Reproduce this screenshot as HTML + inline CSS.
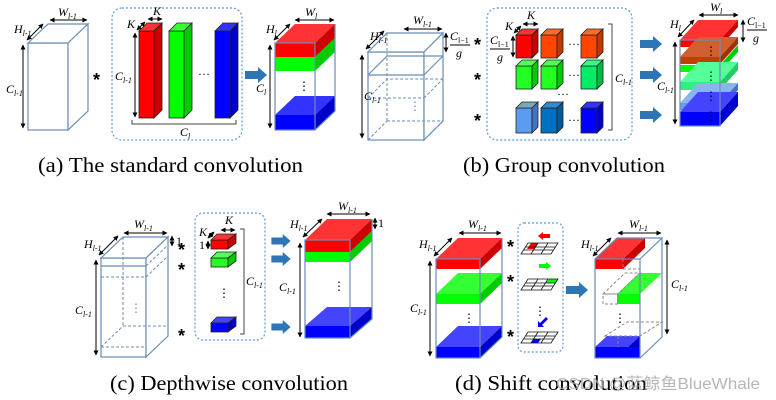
<!DOCTYPE html>
<html><head><meta charset="utf-8"><style>
html,body{margin:0;padding:0;background:#fff}
svg{display:block}
.m{font-family:"Liberation Serif",serif;font-style:italic;font-size:12px;fill:#000}
.cap{font-family:"Liberation Serif",serif;font-size:21px;fill:#000}
.o{fill:#fff;stroke:#6a8db5;stroke-width:1.2}
.ln{fill:none;stroke:#6a8db5;stroke-width:1.2}
.dl{fill:none;stroke:#6a8db5;stroke-width:1;stroke-dasharray:3,2}
.db{fill:none;stroke:#5b9bd5;stroke-width:1.2;stroke-dasharray:2,2}
.d{stroke:#000;stroke-width:1;marker-start:url(#a);marker-end:url(#a)}
.k{stroke:#222;stroke-width:0.8}
.st{font-family:"Liberation Sans",sans-serif;font-size:18px;font-weight:bold;fill:#000}
</style></head><body>
<svg width="776" height="400" viewBox="0 0 776 400" xmlns="http://www.w3.org/2000/svg">
<defs><marker id="a" viewBox="0 0 10 10" refX="9" refY="5" markerWidth="5" markerHeight="5" orient="auto-start-reverse"><path d="M0,0L10,5L0,10z" fill="#000"/></marker>
<symbol id="arr" viewBox="0 0 22 16" overflow="visible"><polygon points="0,4 13,4 13,0 22,8 13,16 13,12 0,12" fill="#2e75b6"/></symbol></defs>

<!-- (a) -->
<rect class="o" x="28" y="43" width="40" height="87"/>
<polygon class="o" points="28,43 48,24 88,24 68,43"/>
<polygon class="o" points="68,43 88,24 88,111 68,130"/>
<line class="d" x1="50" y1="20" x2="87" y2="20"/><text class="m" x="58" y="16">W<tspan font-size="8" dy="3">l-1</tspan></text>
<line class="d" x1="27" y1="40" x2="43" y2="24"/><text class="m" x="14" y="33">H<tspan font-size="8" dy="3">l-1</tspan></text>
<line class="d" x1="23" y1="45" x2="23" y2="128"/><text class="m" x="6" y="93">C<tspan font-size="8" dy="3">l-1</tspan></text>
<text class="st" x="93" y="86">*</text>
<rect class="db" x="112" y="8" width="130" height="132" rx="10"/>
<g class="k">
<rect x="139" y="31" width="15" height="87" fill="#f00"/><polygon points="139,31 147,23 162,23 154,31" fill="#f33"/><polygon points="154,31 162,23 162,110 154,118" fill="#c00"/>
<rect x="169" y="31" width="15" height="87" fill="#0f0"/><polygon points="169,31 177,23 192,23 184,31" fill="#3f3"/><polygon points="184,31 192,23 192,110 184,118" fill="#0c0"/>
<rect x="215" y="31" width="15" height="87" fill="#00f"/><polygon points="215,31 223,23 238,23 230,31" fill="#33f"/><polygon points="230,31 238,23 238,110 230,118" fill="#00c"/>
</g>
<text class="m" x="198" y="78" style="font-style:normal">···</text>
<line class="d" x1="148" y1="19" x2="162" y2="19"/><text class="m" x="153" y="15">K</text>
<line class="d" x1="137" y1="30" x2="145" y2="22"/><text class="m" x="127" y="28">K</text>
<line class="d" x1="135" y1="33" x2="135" y2="117"/><text class="m" x="115" y="80">C<tspan font-size="8" dy="3">l-1</tspan></text>
<path d="M132,120V124H236V120" fill="none" stroke="#444"/><text class="m" x="180" y="136">C<tspan font-size="8" dy="3">l</tspan></text>
<use href="#arr" x="245" y="67" width="22" height="16"/>
<rect x="275" y="43" width="40" height="14" fill="#f00"/><polygon points="275,43 295,24 335,24 315,43" fill="#f33"/><polygon points="315,43 335,24 335,38 315,57" fill="#c00"/>
<rect x="275" y="57" width="40" height="14" fill="#0f0"/><polygon points="315,57 335,38 335,52 315,71" fill="#0c0"/>
<polygon points="275,115 295,96 335,96 315,115" fill="#33f"/><rect x="275" y="115" width="40" height="15" fill="#00f"/><polygon points="315,115 335,96 335,111 315,130" fill="#00c"/>
<rect class="ln" x="275" y="43" width="40" height="87"/><polyline class="ln" points="315,130 335,111 335,24"/>
<text class="m" x="298" y="90" style="font-style:normal">⋮</text>
<line class="d" x1="295" y1="20" x2="334" y2="20"/><text class="m" x="305" y="16">W<tspan font-size="8" dy="3">l</tspan></text>
<line class="d" x1="274" y1="40" x2="290" y2="24"/><text class="m" x="266" y="33">H<tspan font-size="8" dy="3">l</tspan></text>
<line class="d" x1="270" y1="45" x2="270" y2="128"/><text class="m" x="256" y="92">C<tspan font-size="8" dy="3">l</tspan></text>
<text class="cap" x="38" y="172" textLength="265" lengthAdjust="spacingAndGlyphs">(a) The standard convolution</text>

<!-- (b) -->
<rect class="o" x="368" y="52" width="56" height="88"/>
<polygon class="o" points="368,52 387,33 443,33 424,52"/>
<polygon class="o" points="424,52 443,33 443,121 424,140"/>
<polyline class="ln" points="368,75 387,56 443,56"/><line class="ln" x1="368" y1="75" x2="424" y2="75"/><polyline class="ln" points="424,75 443,56"/>
<polyline class="dl" points="368,98 387,79 443,79"/><line class="dl" x1="368" y1="98" x2="424" y2="98"/><polyline class="dl" points="424,98 443,79"/>
<line class="dl" x1="387" y1="33" x2="387" y2="121"/><line class="dl" x1="387" y1="121" x2="443" y2="121"/><line class="dl" x1="368" y1="140" x2="387" y2="121"/>
<text class="m" x="409" y="110" style="font-style:normal;fill:#6a8db5">⋮</text>
<line class="d" x1="404" y1="29" x2="442" y2="29"/><text class="m" x="413" y="24">W<tspan font-size="8" dy="3">l-1</tspan></text>
<line class="d" x1="366" y1="49" x2="384" y2="31"/><text class="m" x="370" y="40">H<tspan font-size="8" dy="3">l-1</tspan></text>
<line class="d" x1="362" y1="55" x2="362" y2="138"/><text class="m" x="364" y="100">C<tspan font-size="8" dy="3">l-1</tspan></text>
<line class="d" x1="446" y1="33" x2="446" y2="52"/><text class="m" x="450" y="40">C<tspan font-size="8" dy="3" style="font-style:normal">l−1</tspan></text><line x1="450" y1="45" x2="470" y2="45" stroke="#000"/><text class="m" x="456" y="57">g</text>
<text class="st" x="474" y="51">*</text><text class="st" x="474" y="86">*</text><text class="st" x="474" y="127">*</text>
<rect class="db" x="487" y="8" width="145" height="132" rx="10"/>
<g class="k">
<rect x="516" y="35" width="16" height="23" fill="#f00"/><polygon points="516,35 522,29 538,29 532,35" fill="#f33"/><polygon points="532,35 538,29 538,52 532,58" fill="#c00"/>
<rect x="541" y="35" width="16" height="23" fill="#ff4500"/><polygon points="541,35 547,29 563,29 557,35" fill="#ff6a2a"/><polygon points="557,35 563,29 563,52 557,58" fill="#c33800"/>
<rect x="581" y="35" width="16" height="23" fill="#ff4500"/><polygon points="581,35 587,29 603,29 597,35" fill="#ff6a2a"/><polygon points="597,35 603,29 603,52 597,58" fill="#c33800"/>
<rect x="516" y="66" width="16" height="23" fill="#2f2"/><polygon points="516,66 522,60 538,60 532,66" fill="#5f5"/><polygon points="532,66 538,60 538,83 532,89" fill="#0c0"/>
<rect x="541" y="66" width="16" height="23" fill="#2f2"/><polygon points="541,66 547,60 563,60 557,66" fill="#5f5"/><polygon points="557,66 563,60 563,83 557,89" fill="#0c0"/>
<rect x="581" y="66" width="16" height="23" fill="#0e6"/><polygon points="581,66 587,60 603,60 597,66" fill="#3f8"/><polygon points="597,66 603,60 603,83 597,89" fill="#0b4"/>
<rect x="516" y="108" width="16" height="25" fill="#5b9bf0"/><polygon points="516,108 522,102 538,102 532,108" fill="#7ab"/><polygon points="532,108 538,102 538,127 532,133" fill="#4472c4"/>
<rect x="541" y="108" width="16" height="25" fill="#0070c0"/><polygon points="541,108 547,102 563,102 557,108" fill="#38c"/><polygon points="557,108 563,102 563,127 557,133" fill="#005a9a"/>
<rect x="581" y="108" width="16" height="25" fill="#00f"/><polygon points="581,108 587,102 603,102 597,108" fill="#33f"/><polygon points="597,108 603,102 603,127 597,133" fill="#00c"/>
</g>
<text class="m" x="568" y="48" style="font-style:normal">···</text><text class="m" x="568" y="79" style="font-style:normal">···</text><text class="m" x="557" y="98" style="font-style:normal">···</text><text class="m" x="568" y="124" style="font-style:normal">···</text>
<line class="d" x1="523" y1="24" x2="538" y2="24"/><text class="m" x="527" y="19">K</text>
<line class="d" x1="514" y1="33" x2="521" y2="26"/><text class="m" x="505" y="30">K</text>
<line class="d" x1="513" y1="36" x2="513" y2="57"/><text class="m" x="490" y="44">C<tspan font-size="8" dy="3" style="font-style:normal">l−1</tspan></text><line x1="490" y1="49" x2="510" y2="49" stroke="#000"/><text class="m" x="497" y="61">g</text>
<path d="M608,24H612V130H608" fill="none" stroke="#444"/><text class="m" x="615" y="82">C<tspan font-size="8" dy="3">l-1</tspan></text>
<use href="#arr" x="640" y="36" width="22" height="16"/><use href="#arr" x="640" y="67" width="22" height="16"/><use href="#arr" x="640" y="107" width="22" height="16"/>
<g>
<polygon points="680,40 698,20 738,20 720,40" fill="#f33"/><rect x="680" y="40" width="40" height="7" fill="#f00"/><polygon points="720,40 738,20 738,27 720,47" fill="#c00"/>
<polygon points="680,57 698,37 738,37 720,57" fill="#d06030"/><rect x="680" y="57" width="40" height="7" fill="#c04000"/><polygon points="720,57 738,37 738,44 720,64" fill="#a03000"/>
<rect x="680" y="65" width="40" height="7" fill="#0f0"/><polygon points="720,65 738,45 738,52 720,72" fill="#0c0"/>
<polygon points="680,82 698,62 738,62 720,82" fill="#5f9"/><rect x="680" y="82" width="40" height="8" fill="#3e8"/><polygon points="720,82 738,62 738,70 720,90" fill="#2c6"/>
<polygon points="680,103 698,83 738,83 720,103" fill="#8ab4f0"/><rect x="680" y="103" width="40" height="7" fill="#6a9ae8"/><polygon points="720,103 738,83 738,90 720,110" fill="#4472c4"/>
<polygon points="680,112 698,92 738,92 720,112" fill="#44f"/><rect x="680" y="112" width="40" height="14" fill="#00f"/><polygon points="720,112 738,92 738,106 720,126" fill="#00c"/>
<rect class="ln" x="680" y="40" width="40" height="86"/>
</g>
<text class="m" x="705" y="55" style="font-style:normal">⋮</text><text class="m" x="705" y="80" style="font-style:normal">⋮</text><text class="m" x="705" y="100" style="font-style:normal">⋮</text><text class="m" x="705" y="120" style="font-style:normal">⋮</text>
<line class="d" x1="699" y1="15" x2="738" y2="15"/><text class="m" x="710" y="11">W<tspan font-size="8" dy="3">l</tspan></text>
<line class="d" x1="678" y1="37" x2="694" y2="20"/><text class="m" x="670" y="28">H<tspan font-size="8" dy="3">l</tspan></text>
<line class="d" x1="675" y1="42" x2="675" y2="124"/><text class="m" x="657" y="90">C<tspan font-size="8" dy="3">l-1</tspan></text>
<line class="d" x1="743" y1="20" x2="743" y2="42"/><text class="m" x="747" y="25">C<tspan font-size="8" dy="3" style="font-style:normal">l−1</tspan></text><line x1="747" y1="30" x2="767" y2="30" stroke="#000"/><text class="m" x="753" y="42">g</text>
<text class="cap" x="463" y="172" textLength="202" lengthAdjust="spacingAndGlyphs">(b) Group convolution</text>

<!-- (c) -->
<rect class="o" x="101" y="258" width="45" height="99"/>
<polygon class="o" points="101,258 123,237 168,237 146,258"/>
<polygon class="o" points="146,258 168,237 168,336 146,357"/>
<line class="ln" x1="101" y1="266" x2="146" y2="266"/><polyline class="dl" points="146,266 168,245"/><line class="dl" x1="101" y1="277" x2="146" y2="277"/><polyline class="dl" points="146,277 168,256"/>
<line class="dl" x1="101" y1="347" x2="146" y2="347"/><line class="dl" x1="123" y1="237" x2="123" y2="326"/><line class="dl" x1="123" y1="326" x2="168" y2="326"/><line class="dl" x1="101" y1="347" x2="123" y2="326"/>
<text class="m" x="130" y="312" style="font-style:normal;fill:#6a8db5">⋮</text>
<line class="d" x1="124" y1="233" x2="167" y2="233"/><text class="m" x="134" y="228">W<tspan font-size="8" dy="3">l-1</tspan></text>
<line class="d" x1="99" y1="255" x2="118" y2="236"/><text class="m" x="84" y="248">H<tspan font-size="8" dy="3">l-1</tspan></text>
<line class="d" x1="96" y1="260" x2="96" y2="355"/><text class="m" x="75" y="314">C<tspan font-size="8" dy="3">l-1</tspan></text>
<line class="d" x1="172" y1="236" x2="172" y2="246"/><text class="m" x="176" y="245" style="font-style:normal">1</text>
<text class="st" x="178" y="256">*</text><text class="st" x="178" y="276">*</text><text class="st" x="178" y="342">*</text>
<rect class="db" x="195" y="213" width="70" height="127" rx="8"/>
<g class="k">
<rect x="211" y="240" width="17" height="9" fill="#f00"/><polygon points="211,240 217,234 236,234 228,240" fill="#f33"/><polygon points="228,240 236,234 236,243 228,249" fill="#c00"/>
<rect x="211" y="258" width="17" height="9" fill="#2f2"/><polygon points="211,258 217,252 236,252 228,258" fill="#5f5"/><polygon points="228,258 236,252 236,261 228,267" fill="#0c0"/>
<rect x="211" y="323" width="17" height="9" fill="#00f"/><polygon points="211,323 217,317 236,317 228,323" fill="#44f"/><polygon points="228,323 236,317 236,326 228,332" fill="#00c"/>
</g>
<text class="m" x="218" y="297" style="font-style:normal">⋮</text>
<line class="d" x1="221" y1="230" x2="235" y2="230"/><text class="m" x="225" y="224">K</text>
<line class="d" x1="208" y1="238" x2="214" y2="232"/><text class="m" x="199" y="236">K</text>
<line class="d" x1="208" y1="241" x2="208" y2="249"/><text class="m" x="199" y="249" style="font-style:normal">1</text>
<path d="M240,229H244V334H240" fill="none" stroke="#444"/><text class="m" x="246" y="285">C<tspan font-size="8" dy="3">l-1</tspan></text>
<use href="#arr" x="270" y="234" width="22" height="14"/><use href="#arr" x="270" y="252" width="22" height="14"/><use href="#arr" x="270" y="320" width="22" height="14"/>
<polygon points="305,240 327,219 372,219 350,240" fill="#f33"/><rect x="305" y="240" width="45" height="12" fill="#f00"/><polygon points="350,240 372,219 372,231 350,252" fill="#c00"/>
<rect x="305" y="252" width="45" height="10" fill="#0f0"/><polygon points="350,252 372,231 372,241 350,262" fill="#0c0"/>
<polygon points="305,326 327,307 372,307 350,326" fill="#44f"/><rect x="305" y="326" width="45" height="12" fill="#00f"/><polygon points="350,326 372,307 372,319 350,338" fill="#00c"/>
<rect class="ln" x="305" y="240" width="45" height="98"/><polyline class="ln" points="350,338 372,319 372,219"/>
<text class="m" x="333" y="290" style="font-style:normal">⋮</text>
<line class="d" x1="327" y1="214" x2="370" y2="214"/><text class="m" x="338" y="210">W<tspan font-size="8" dy="3">l-1</tspan></text>
<line class="d" x1="303" y1="237" x2="322" y2="219"/><text class="m" x="290" y="228">H<tspan font-size="8" dy="3">l-1</tspan></text>
<line class="d" x1="300" y1="243" x2="300" y2="337"/><text class="m" x="279" y="291">C<tspan font-size="8" dy="3">l-1</tspan></text>
<line class="d" x1="375" y1="218" x2="375" y2="229"/><text class="m" x="378" y="227" style="font-style:normal">1</text>
<text class="cap" x="110" y="390" textLength="238" lengthAdjust="spacingAndGlyphs">(c) Depthwise convolution</text>

<!-- (d) -->
<polygon points="436,259 458,238 502,238 480,259" fill="#f33"/><rect x="436" y="259" width="44" height="10" fill="#f00"/><polygon points="480,259 502,238 502,248 480,269" fill="#c00"/>
<polygon points="436,294 458,273 502,273 480,294" fill="#3f3"/><rect x="436" y="294" width="44" height="10" fill="#0f0"/><polygon points="480,294 502,273 502,283 480,304" fill="#0c0"/>
<polygon points="436,347 458,326 502,326 480,347" fill="#44f"/><rect x="436" y="347" width="44" height="11" fill="#00f"/><polygon points="480,347 502,326 502,337 480,358" fill="#00c"/>
<rect class="ln" x="436" y="259" width="44" height="99"/><polyline class="ln" points="480,358 502,337 502,238"/>
<text class="m" x="463" y="322" style="font-style:normal">⋮</text>
<line class="d" x1="459" y1="233" x2="501" y2="233"/><text class="m" x="468" y="228">W<tspan font-size="8" dy="3">l-1</tspan></text>
<line class="d" x1="434" y1="256" x2="452" y2="238"/><text class="m" x="419" y="248">H<tspan font-size="8" dy="3">l-1</tspan></text>
<line class="d" x1="430" y1="261" x2="430" y2="356"/><text class="m" x="410" y="312">C<tspan font-size="8" dy="3">l-1</tspan></text>
<text class="st" x="507" y="253">*</text><text class="st" x="507" y="288">*</text><text class="st" x="507" y="343">*</text>
<rect class="db" x="518" y="223" width="45" height="129" rx="6"/>
<g stroke="#111" stroke-width="0.8" fill="none">
<polygon points="531,243 529,246 527,249 534,249 536,246 538,243" fill="#f00" stroke="none"/>
<polygon points="528,243 558,243 551,254 521,254"/><line x1="526" y1="247" x2="555" y2="247"/><line x1="524" y1="250" x2="553" y2="250"/><line x1="538" y1="243" x2="531" y2="254"/><line x1="548" y1="243" x2="541" y2="254"/>
<polygon points="549,279 558,279 555,283 546,283" fill="#0f0" stroke="none"/>
<polygon points="528,279 558,279 551,290 521,290"/><line x1="526" y1="283" x2="555" y2="283"/><line x1="524" y1="286" x2="553" y2="286"/><line x1="538" y1="279" x2="531" y2="290"/><line x1="548" y1="279" x2="541" y2="290"/>
<polygon points="534,339 541,339 538,343 531,343" fill="#00f" stroke="none"/>
<polygon points="528,332 558,332 551,343 521,343"/><line x1="526" y1="336" x2="555" y2="336"/><line x1="524" y1="339" x2="553" y2="339"/><line x1="538" y1="332" x2="531" y2="343"/><line x1="548" y1="332" x2="541" y2="343"/>
</g>
<polygon points="538,236 543,232 543,234 550,234 550,238 543,238 543,240" fill="#f00"/>
<polygon points="551,266 546,262 546,264 539,264 539,268 546,268 546,270" fill="#0f0"/>
<polygon points="538,327 538,321 540,323 546,317 548,319 542,325 544,327" fill="#00f"/>
<text class="m" x="534" y="315" style="font-style:normal">⋮</text>
<use href="#arr" x="566" y="282" width="22" height="16"/>
<polygon points="595,259 617,238 645,238 623,259" fill="#f33"/><rect x="595" y="259" width="28" height="10" fill="#f00"/><polygon points="623,259 645,238 645,248 623,269" fill="#c00"/>
<polygon points="617,294 639,273 662,273 640,294" fill="#3f3"/><rect x="617" y="294" width="23" height="10" fill="#0f0"/>
<polygon points="595,347 607,336 640,336 628,347" fill="#44f"/><rect x="595" y="347" width="45" height="11" fill="#00f"/><polygon points="628,347 640,336 640,347" fill="#00c"/>
<g class="dl" style="stroke:#888">
<polyline points="623,259 623,269 640,269"/><polygon points="603,294 625,273 640,273 618,294"/><rect x="603" y="294" width="15" height="10"/><polygon points="605,336 627,322 662,322 640,336"/><line x1="618" y1="336" x2="618" y2="347"/>
</g>
<rect class="ln" x="595" y="259" width="45" height="99"/><polyline class="ln" points="595,259 617,238 662,238 640,259"/><polyline class="ln" points="640,358 662,337 662,238"/>
<text class="m" x="614" y="322" style="font-style:normal">⋮</text>
<line class="d" x1="618" y1="233" x2="661" y2="233"/><text class="m" x="629" y="228">W<tspan font-size="8" dy="3">l-1</tspan></text>
<line class="d" x1="593" y1="256" x2="611" y2="238"/><text class="m" x="581" y="248">H<tspan font-size="8" dy="3">l-1</tspan></text>
<line class="d" x1="667" y1="240" x2="667" y2="334"/><text class="m" x="671" y="288">C<tspan font-size="8" dy="3">l-1</tspan></text>
<text class="cap" x="455" y="390" textLength="192" lengthAdjust="spacingAndGlyphs">(d) Shift convolution</text>
<text x="556" y="389" font-family="Liberation Sans, 'Noto Sans CJK SC', sans-serif" font-size="16" fill="#aaa" opacity="0.85" textLength="204" lengthAdjust="spacingAndGlyphs">CSDN @蓝鲸鱼BlueWhale</text>
</svg>
</body></html>
